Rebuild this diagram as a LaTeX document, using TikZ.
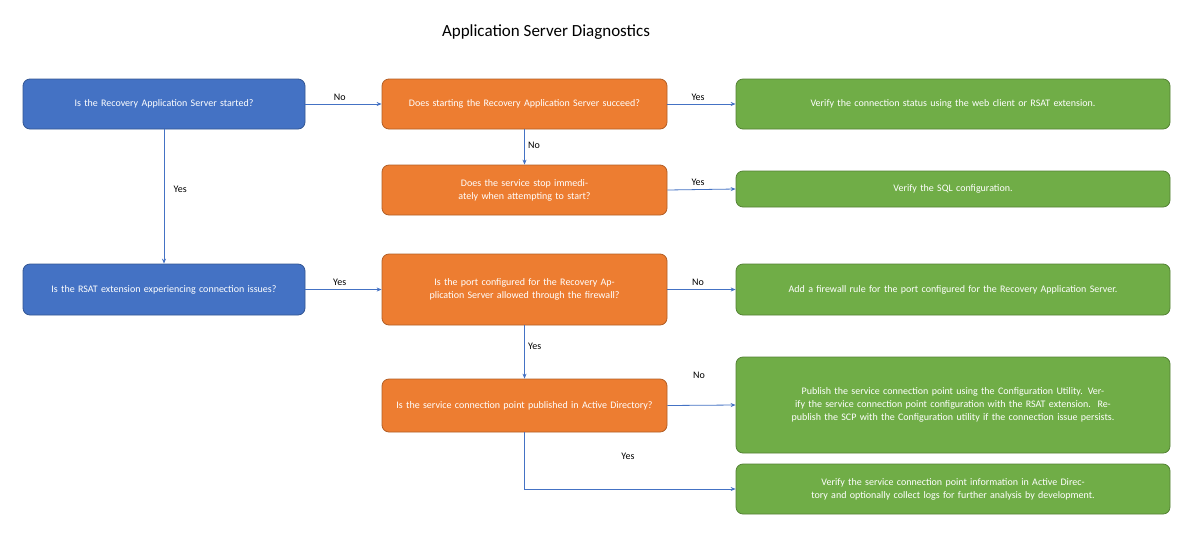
\documentclass[tikz,border=0pt]{standalone}
\usepackage{fontspec}
\setmainfont{Carlito}
\usetikzlibrary{arrows.meta}
\definecolor{bl}{HTML}{4472C4}
\definecolor{ob}{HTML}{ED7D31}
\definecolor{gb}{HTML}{70AD47}
\begin{document}
\begin{tikzpicture}[x=1pt,y=-1pt,
 box/.style={draw=#1!75!black,fill=#1,rounded corners=7pt,text=white,align=center,
   font=\fontsize{10}{13}\selectfont,inner sep=2pt,line width=0.8pt},
 conn/.style={draw=bl,line width=0.8pt,-{Stealth[length=5pt,width=4pt]}},
 lab/.style={font=\fontsize{10}{12}\selectfont}]
\useasboundingbox[fill=white] (0,0) rectangle (1201,547);
\node[font=\fontsize{17}{20}\selectfont] (t) at (546,32) {Application Server Diagnostics};
\node[box=bl,minimum width=282,minimum height=50,text width=276] (b1) at (164,104) {Is the Recovery Application Server started?};
\node[box=ob,minimum width=285,minimum height=50,text width=250] (o1) at (524.5,104) {Does starting the Recovery Application Server succeed?};
\node[box=gb,minimum width=434,minimum height=50,text width=420] (g1) at (953,104) {Verify the connection status using the web client or RSAT extension.};
\node[box=ob,minimum width=285,minimum height=50,text width=250] (o2) at (524.5,190) {Does the service stop immediately when attempting to start?};
\node[box=gb,minimum width=434,minimum height=36,text width=420] (g2) at (953,189) {Verify the SQL configuration.};
\node[box=bl,minimum width=282,minimum height=51,text width=240] (b2) at (164,289.5) {Is the RSAT extension experiencing connection issues?};
\node[box=ob,minimum width=285,minimum height=71,text width=240] (o3) at (524.5,289.5) {Is the port configured for the Recovery Application Server allowed through the firewall?};
\node[box=gb,minimum width=434,minimum height=51,text width=360] (g3) at (953,289.5) {Add a firewall rule for the port configured for the Recovery Application Server.};
\node[box=ob,minimum width=285,minimum height=53,text width=260] (o4) at (524.5,405.5) {Is the service connection point published in Active Directory?};
\node[box=gb,minimum width=434,minimum height=96,text width=410] (g4) at (953,405) {Publish the service connection point using the Configuration Utility. Verify the service connection point configuration with the RSAT extension.\ \ Re-publish the SCP with the Configuration utility if the connection issue persists.};
\node[box=gb,minimum width=434,minimum height=50,text width=420] (g5) at (953,489) {Verify the service connection point information in Active Directory and optionally collect logs for further analysis by development.};
\draw[conn] (b1) -- node[lab,above,pos=0.45]{No} (o1);
\draw[conn] (o1) -- node[lab,above,pos=0.45]{Yes} (g1);
\draw[conn] (o1) -- node[lab,right,pos=0.45]{No} (o2);
\draw[conn] (o2.east) -- node[lab,above,pos=0.45]{Yes} (g2.west);
\draw[conn] (b1) -- node[lab,right,xshift=6pt,pos=0.45]{Yes} (b2);
\draw[conn] (b2) -- node[lab,above,pos=0.45]{Yes} (o3);
\draw[conn] (o3) -- node[lab,above,pos=0.45]{No} (g3);
\draw[conn] (o3) -- node[lab,right,pos=0.4]{Yes} (o4);
\draw[conn] (o4.east) -- (g4.west);
\node[lab] (ln) at (699,375) {No};
\draw[conn] (o4.south) |- (g5.west);
\node[lab] (ly) at (628,456) {Yes};
\end{tikzpicture}
\end{document}
